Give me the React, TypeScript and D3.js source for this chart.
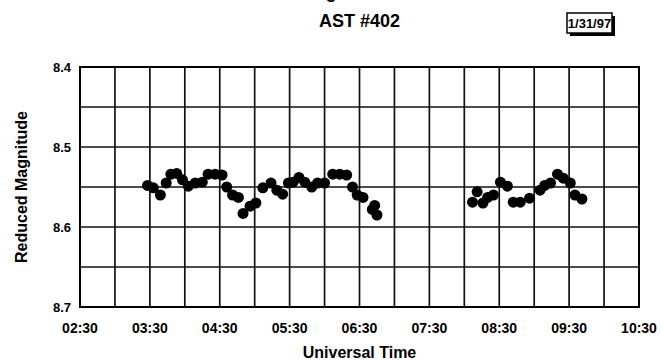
import { select, scaleLinear, scaleTime, timeParse, timeMinute, range } from "d3";
import { useEffect, useRef } from "react";

const width = 662;
const height = 362;
const margin = { top: 67, right: 23, bottom: 55, left: 80 };
const innerWidth = width - margin.left - margin.right;
const innerHeight = height - margin.top - margin.bottom;

const times = [
  "03:28", "03:33", "03:39", "03:44", "03:48", "03:53", "03:58", "04:03", "04:09", "04:15",
  "04:20", "04:26", "04:32", "04:36", "04:41", "04:46", "04:50", "04:56", "05:01", "05:07",
  "05:14", "05:19", "05:24", "05:29", "05:33", "05:38", "05:43", "05:49", "05:54", "06:00",
  "06:07", "06:13", "06:19", "06:24", "06:28", "06:33", "06:41", "06:43", "06:45",
  "08:07", "08:11", "08:16", "08:20", "08:25", "08:31", "08:37", "08:42", "08:48", "08:56",
  "09:05", "09:09", "09:14", "09:20", "09:25", "09:31", "09:35", "09:41",
];
const mags = [
  8.548, 8.551, 8.560, 8.545, 8.534, 8.533, 8.541, 8.549, 8.545, 8.544,
  8.534, 8.534, 8.535, 8.550, 8.560, 8.563, 8.583, 8.574, 8.570, 8.551,
  8.545, 8.554, 8.559, 8.545, 8.544, 8.538, 8.544, 8.550, 8.545, 8.545,
  8.534, 8.534, 8.535, 8.550, 8.560, 8.563, 8.578, 8.573, 8.585,
  8.569, 8.556, 8.570, 8.563, 8.560, 8.544, 8.549, 8.569, 8.569, 8.564,
  8.554, 8.548, 8.545, 8.534, 8.539, 8.545, 8.560, 8.565,
];

const xTickLabels = ["02:30", "03:30", "04:30", "05:30", "06:30", "07:30", "08:30", "09:30", "10:30"];
const yTickLabels = ["8.4", "8.5", "8.6", "8.7"];
const yGrid = [8.4, 8.45, 8.5, 8.55, 8.6, 8.65, 8.7];

const titleLines = ["Light Curve", "AST #402"];
const dateLabel = "1/31/97";
const xTitle = "Universal Time";
const yTitle = "Reduced Magnitude";

const font = "Arial, 'Liberation Sans', sans-serif";
const parse = timeParse("%H:%M");

const App = () => {
  const ref = useRef<SVGSVGElement>(null);

  useEffect(() => {
    const svg = select(ref.current);
    svg.selectAll("*").remove();

    const x = scaleTime()
      .domain([parse(xTickLabels[0]), parse(xTickLabels[xTickLabels.length - 1])])
      .range([0, innerWidth]);
    const y = scaleLinear().domain([8.4, 8.7]).range([0, innerHeight]);

    const g = svg.append("g").attr("transform", `translate(${margin.left},${margin.top})`);

    // grid, every 30 minutes / 0.05 mag
    const xGrid = timeMinute.every(30).range(x.domain()[0], new Date(+x.domain()[1] + 1));
    g.selectAll(".vgrid").data(xGrid).enter().append("line")
      .attr("x1", d => x(d)).attr("x2", d => x(d))
      .attr("y1", 0).attr("y2", innerHeight)
      .attr("stroke", "#111").attr("stroke-width", 1.7);
    g.selectAll(".hgrid").data(yGrid).enter().append("line")
      .attr("x1", 0).attr("x2", innerWidth)
      .attr("y1", d => y(d)).attr("y2", d => y(d))
      .attr("stroke", "#111").attr("stroke-width", 1.7);
    g.append("rect")
      .attr("width", innerWidth).attr("height", innerHeight)
      .attr("fill", "none").attr("stroke", "#000").attr("stroke-width", 2);

    // tick labels
    g.selectAll(".xt").data(xTickLabels).enter().append("text")
      .attr("x", d => x(parse(d))).attr("y", innerHeight + 26)
      .attr("text-anchor", "middle")
      .style("font", `bold 14px ${font}`)
      .text(d => d);
    g.selectAll(".yt").data(yTickLabels).enter().append("text")
      .attr("x", -9).attr("y", d => y(+d)).attr("dy", "0.35em")
      .attr("text-anchor", "end")
      .style("font", `bold 13px ${font}`)
      .text(d => d);

    // points
    const pts = range(times.length).map(i => ({ t: parse(times[i]), m: mags[i] }));
    g.selectAll("circle").data(pts).enter().append("circle")
      .attr("cx", d => x(d.t)).attr("cy", d => y(d.m))
      .attr("r", 5.5).attr("fill", "#000");

    // axis titles
    svg.append("text")
      .attr("x", margin.left + innerWidth / 2).attr("y", 358)
      .attr("text-anchor", "middle")
      .style("font", `bold 16px ${font}`)
      .text(xTitle);
    svg.append("text")
      .attr("transform", `translate(27,${margin.top + innerHeight / 2}) rotate(-90)`)
      .attr("text-anchor", "middle")
      .style("font", `bold 16px ${font}`)
      .text(yTitle);

    // titles (first line is cut off by the top edge, as in the original)
    svg.append("text")
      .attr("x", margin.left + innerWidth / 2).attr("y", -2)
      .attr("text-anchor", "middle")
      .style("font", `bold 18px ${font}`)
      .text(titleLines[0]);
    svg.append("text")
      .attr("x", margin.left + innerWidth / 2).attr("y", 27)
      .attr("text-anchor", "middle")
      .style("font", `bold 18px ${font}`)
      .text(titleLines[1]);

    // date box with shadow
    const box = svg.append("g").attr("transform", "translate(567,13)");
    box.append("rect").attr("x", 3).attr("y", 3).attr("width", 45).attr("height", 20).attr("fill", "#000");
    box.append("rect").attr("width", 45).attr("height", 20)
      .attr("fill", "#fff").attr("stroke", "#000").attr("stroke-width", 1.5);
    box.append("text")
      .attr("x", 22.5).attr("y", 14.5)
      .attr("text-anchor", "middle")
      .style("font", `bold 13px ${font}`)
      .text(dateLabel);
  }, []);

  return (
    <svg
      ref={ref}
      width={width}
      height={height}
      style={{ position: "absolute", left: 0, top: 0, background: "#fff" }}
    />
  );
};

export default App;
